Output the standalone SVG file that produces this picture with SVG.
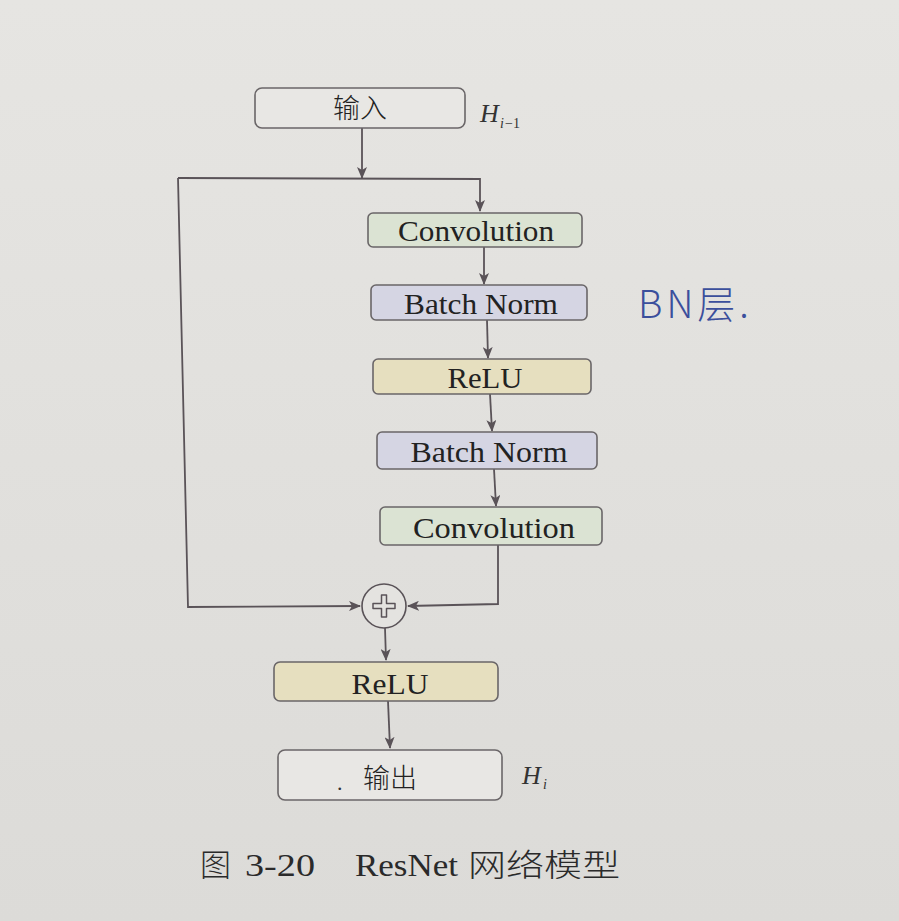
<svg xmlns="http://www.w3.org/2000/svg" width="899" height="921" viewBox="0 0 899 921">
<defs>
<linearGradient id="bg" x1="0" y1="0" x2="0" y2="1">
<stop offset="0" stop-color="#e6e5e2"/>
<stop offset="1" stop-color="#dcdbd8"/>
</linearGradient>
<marker id="ah" viewBox="0 0 12 10" refX="11" refY="5" markerWidth="12" markerHeight="10" markerUnits="userSpaceOnUse" orient="auto">
<path d="M0,0 L12,5 L0,10 L3,5 Z" fill="#5a5358"/>
</marker>
<style>
.box{stroke:#6a6668;stroke-width:1.6}
.plain{fill:#e8e7e4}
.conv{fill:#dbe3d3}
.bn{fill:#d5d5e3}
.relu{fill:#e6dfbf}
.lbl{font-family:"Liberation Serif","Noto Sans CJK SC",serif;font-size:29px;fill:#222;text-anchor:middle}
.cn{font-family:"Noto Sans CJK SC","Liberation Serif",sans-serif;font-size:27px;font-weight:300;fill:#222;text-anchor:middle}
.h{font-family:"Liberation Serif",serif;font-style:italic;fill:#333}
.wire{fill:none;stroke:#5a5358;stroke-width:1.8}
.cap{font-family:"Liberation Serif",serif;font-size:31px;fill:#2a2a2a}
.capcn{font-family:"Noto Sans CJK SC",sans-serif;font-size:31px;font-weight:300;fill:#2a2a2a}
</style>
</defs>
<rect width="899" height="921" fill="url(#bg)"/>

<g id="connectors">
<path class="wire" d="M362,128 L362,178" marker-end="url(#ah)"/>
<path class="wire" d="M178,178 L480,179 L480,211" marker-end="url(#ah)"/>
<path class="wire" d="M178,178 L188,607 L360,606" marker-end="url(#ah)"/>
<path class="wire" d="M484,247 L484,284" marker-end="url(#ah)"/>
<path class="wire" d="M487,320 L488,358" marker-end="url(#ah)"/>
<path class="wire" d="M490,394 L492,431" marker-end="url(#ah)"/>
<path class="wire" d="M494,469 L496,506" marker-end="url(#ah)"/>
<path class="wire" d="M498,545 L498,604 L408,606" marker-end="url(#ah)"/>
<path class="wire" d="M385,628 L386,660" marker-end="url(#ah)"/>
<path class="wire" d="M388,701 L390,748" marker-end="url(#ah)"/>
</g>

<g id="input">
<rect class="box plain" x="255" y="88" width="210" height="40" rx="7"/>
<text class="cn" x="360" y="118">输入</text>
<text class="h" x="480" y="122" font-size="26">H</text>
<text class="h" x="500" y="128" font-size="14">i</text>
<text x="505" y="128" font-size="14" font-family="Liberation Serif,serif" fill="#333">−1</text>
</g>

<g id="conv1">
<rect class="box conv" x="368" y="213" width="214" height="34" rx="5"/>
<text class="lbl" x="476" y="241" textLength="156" lengthAdjust="spacingAndGlyphs">Convolution</text>
</g>

<g id="bn1">
<rect class="box bn" x="371" y="285" width="216" height="35" rx="5"/>
<text class="lbl" x="481" y="314" textLength="154" lengthAdjust="spacingAndGlyphs">Batch Norm</text>
</g>

<g id="relu1">
<rect class="box relu" x="373" y="359" width="218" height="35" rx="5"/>
<text class="lbl" x="485" y="388" textLength="75" lengthAdjust="spacingAndGlyphs">ReLU</text>
</g>

<g id="bn2">
<rect class="box bn" x="377" y="432" width="220" height="37" rx="5"/>
<text class="lbl" x="489" y="462" textLength="157" lengthAdjust="spacingAndGlyphs">Batch Norm</text>
</g>

<g id="conv2">
<rect class="box conv" x="380" y="507" width="222" height="38" rx="5"/>
<text class="lbl" x="494" y="538" textLength="162" lengthAdjust="spacingAndGlyphs">Convolution</text>
</g>

<g id="add">
<circle cx="384" cy="606" r="22" fill="#e4e3e0" stroke="#5a5358" stroke-width="1.6"/>
<path d="M381.5,595 L386.5,595 L386.5,603.5 L395,603.5 L395,608.5 L386.5,608.5 L386.5,617 L381.5,617 L381.5,608.5 L373,608.5 L373,603.5 L381.5,603.5 Z" fill="#e4e3e0" stroke="#5a5358" stroke-width="1.5" stroke-linejoin="round"/>
</g>

<g id="relu2">
<rect class="box relu" x="274" y="662" width="224" height="39" rx="6"/>
<text class="lbl" x="390" y="694" textLength="77" lengthAdjust="spacingAndGlyphs">ReLU</text>
</g>

<g id="output">
<rect class="box plain" x="278" y="750" width="224" height="50" rx="7"/>
<text x="337" y="790" font-family="Liberation Serif,serif" font-size="22" fill="#333">.</text>
<text class="cn" x="390" y="788">输出</text>
<text class="h" x="522" y="784" font-size="26">H</text>
<text class="h" x="543" y="789" font-size="14">i</text>
</g>

<g id="note">
<text x="638" y="318" font-family="Noto Sans CJK SC,sans-serif" font-size="38" font-weight="300" fill="#3b4f9c" letter-spacing="4">BN层.</text>
</g>

<g id="caption">
<text class="capcn" x="200" y="876">图</text>
<text class="cap" x="245" y="876" textLength="70" lengthAdjust="spacingAndGlyphs">3-20</text>
<text class="cap" x="355" y="876" textLength="103" lengthAdjust="spacingAndGlyphs">ResNet</text>
<text class="capcn" x="468" y="876" textLength="152" lengthAdjust="spacingAndGlyphs">网络模型</text>
</g>
</svg>
